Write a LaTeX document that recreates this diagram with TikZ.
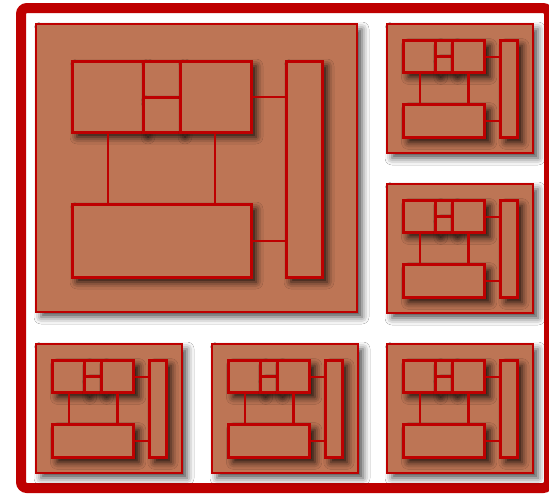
\documentclass[tikz,border=0pt]{standalone}
\usetikzlibrary{shadows.blur}
\definecolor{fr}{RGB}{190,0,0}
\definecolor{pf}{RGB}{189,117,85}
\tikzset{
  framestyle/.style={draw=fr, line width=10pt, rounded corners=6pt},
  panel/.style={draw=fr, line width=2.2pt, fill=pf,
    blur shadow={shadow xshift=5pt, shadow yshift=-5pt, shadow blur radius=7pt, shadow opacity=70}},
  box/.style={draw=fr, line width=3pt, fill=pf,
    blur shadow={shadow xshift=5pt, shadow yshift=-5pt, shadow blur radius=7pt, shadow opacity=85}},
  link/.style={draw=fr, line width=2.3pt},
}
\newcommand\mypanel[4]{%
  \begin{scope}[shift={(#1,#2)}, x=#3pt, y=-#4pt]
    \path[panel] (0,0) rectangle (321,288);
    \coordinate (b1a) at (36,37);   \coordinate (b1b) at (107,108);
    \coordinate (m1a) at (107,37);  \coordinate (m1b) at (144,73);
    \coordinate (m2a) at (107,73);  \coordinate (m2b) at (144,108);
    \coordinate (b3a) at (144,37);  \coordinate (b3b) at (215,108);
    \coordinate (bra) at (250,37);  \coordinate (brb) at (286,253);
    \coordinate (bba) at (36,180);  \coordinate (bbb) at (215,253);
    \path[box] (b1a) rectangle (b1b);
    \path[box] (m1a) rectangle (m1b);
    \path[box] (m2a) rectangle (m2b);
    \path[box] (b3a) rectangle (b3b);
    \path[box] (bra) rectangle (brb);
    \path[box] (bba) rectangle (bbb);
    \coordinate (c1a) at (215,73);  \coordinate (c1b) at (250,73);
    \coordinate (c2a) at (215,217); \coordinate (c2b) at (250,217);
    \coordinate (c3a) at (72,108);  \coordinate (c3b) at (72,180);
    \coordinate (c4a) at (179,108); \coordinate (c4b) at (179,180);
    \draw[link] (c1a) -- (c1b);
    \draw[link] (c2a) -- (c2b);
    \draw[link] (c3a) -- (c3b);
    \draw[link] (c4a) -- (c4b);
  \end{scope}}
\begin{document}
\begin{tikzpicture}[x=1pt, y=-1pt]
  \useasboundingbox (0,0) rectangle (549,493);
  \fill[white] (0,0) rectangle (549,493);
  \draw[framestyle] (21,8) rectangle (549,488);
  \mypanel{36}{24}{1}{1}
  \mypanel{387}{24}{0.455}{0.448}
  \mypanel{387}{184}{0.455}{0.448}
  \mypanel{36}{344}{0.455}{0.448}
  \mypanel{212}{344}{0.455}{0.448}
  \mypanel{387}{344}{0.455}{0.448}
\end{tikzpicture}
\end{document}
